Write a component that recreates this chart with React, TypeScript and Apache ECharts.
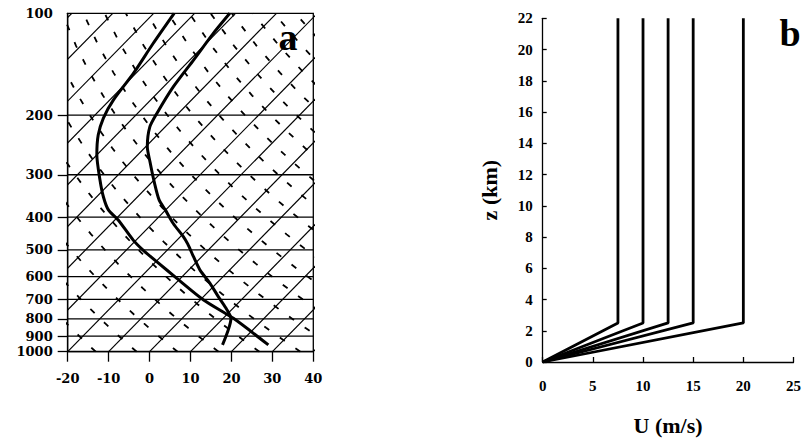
import React, { useEffect, useRef } from "react";
import * as echarts from "echarts";

// ---------- Panel a: skew-T log-p sounding ----------
const pressureLevels = [100, 200, 300, 400, 500, 600, 700, 800, 900, 1000];
const tempTicks = [-20, -10, 0, 10, 20, 30, 40];
// Profile A (warm at the surface)
const profileAPressure = [955, 797, 703, 607, 542, 501, 468, 408, 381, 349, 311, 262, 229, 204, 180, 150, 123, 100];
const profileATemp = [27.4, 12.5, 0.8, -10.9, -19.8, -25.9, -30.7, -39.2, -44.0, -48.3, -53.2, -60.0, -64.4, -67.2, -69.1, -70.6, -72.9, -75.0];
// Profile B
const profileBPressure = [955, 797, 743, 685, 628, 574, 524, 481, 457, 418, 381, 356, 315, 275, 248, 217, 197, 165, 137, 115, 100];
const profileBTemp = [16.2, 11.9, 8.2, 3.4, -1.6, -7.2, -12.0, -16.4, -19.3, -24.9, -30.1, -34.0, -39.5, -45.3, -49.6, -53.7, -55.3, -57.6, -59.1, -60.6, -61.4];
// Diagram background: isotherms (°C) and dry adiabats (K)
const isotherms = [-100, -90, -80, -70, -60, -50, -40, -30, -20, -10, 0, 10, 20, 30, 40];
const dryAdiabats = [260, 270, 280, 290, 300, 310, 320, 330, 340, 350, 360, 370, 380, 390, 400, 410, 420, 430, 440, 450, 460];

// ---------- Panel b: wind profiles ----------
const surfaceWinds = [7.5, 10, 12.5, 15, 20]; // m/s above shear layer
const shearTop = 2.5; // km
const modelTop = 22; // km

const SKEW = 81; // °C of skew per decade of pressure
const skewX = (t: number, p: number) => t + SKEW * Math.log10(1000 / p);

export default function App() {
  const ref = useRef<HTMLDivElement>(null);
  useEffect(() => {
    if (!ref.current) return;
    const chart = echarts.init(ref.current, null, { renderer: "svg" });
    const black = "#000";
    const fa = { fontFamily: "DejaVu Serif", fontWeight: "bold" as const, fontSize: 13, color: black };
    const fb = { fontFamily: "Liberation Serif", fontWeight: "bold" as const, fontSize: 15, color: black };
    const base = {
      type: "line" as const,
      xAxisIndex: 0,
      yAxisIndex: 0,
      symbol: "none",
      showSymbol: false,
      silent: true,
      clip: true,
    };
    const series: any[] = [];
    isotherms.forEach((t) => {
      series.push({ ...base, data: [[skewX(t, 1000), 1000], [skewX(t, 100), 100]], lineStyle: { color: black, width: 1.2 }, z: 2 });
    });
    pressureLevels.slice(1, -1).forEach((p) => {
      series.push({ ...base, data: [[-20, p], [40, p]], lineStyle: { color: black, width: 1.3 }, z: 2 });
    });
    const adPress: number[] = [];
    for (let p = 1000; p >= 100; p -= 25) adPress.push(p);
    dryAdiabats.forEach((th) => {
      series.push({
        ...base,
        data: adPress.map((p) => [skewX(th * Math.pow(p / 1000, 0.286) - 273.15, p), p]),
        lineStyle: { color: black, width: 1.8, type: [6, 13] },
        z: 1,
      });
    });
    series.push({
      ...base,
      data: profileAPressure.map((p, i) => [skewX(profileATemp[i], p), p]),
      smooth: 0.25,
      lineStyle: { color: black, width: 3 },
      z: 5,
    });
    series.push({
      ...base,
      data: profileBPressure.map((p, i) => [skewX(profileBTemp[i], p), p]),
      smooth: 0.25,
      lineStyle: { color: black, width: 3 },
      z: 5,
    });
    surfaceWinds.forEach((u) => {
      series.push({
        ...base,
        xAxisIndex: 1,
        yAxisIndex: 1,
        data: [[0, 0], [u, shearTop], [u, modelTop]],
        lineStyle: { color: black, width: 2.8 },
        z: 5,
      });
    });

    chart.setOption({
      animation: false,
      backgroundColor: "#fff",
      grid: [
        { left: 67.7, top: 13.3, width: 245.6, height: 338.4, show: true, borderColor: black, borderWidth: 1.3, backgroundColor: "transparent" },
        { left: 542.7, top: 18.3, width: 252.3, height: 344.4 },
      ],
      xAxis: [
        {
          gridIndex: 0,
          type: "value",
          min: -20,
          max: 40,
          interval: 10,
          axisLine: { show: true, onZero: false, lineStyle: { color: black, width: 1.3 } },
          axisTick: { show: true, length: 10, lineStyle: { color: black, width: 1.3 } },
          axisLabel: { ...fa, margin: 20, customValues: tempTicks },
          splitLine: { show: false },
        },
        {
          gridIndex: 1,
          type: "value",
          min: 0,
          max: 25,
          interval: 5,
          axisLine: { show: true, onZero: false, lineStyle: { color: black, width: 1.3 } },
          axisTick: { show: true, inside: true, length: 5, lineStyle: { color: black, width: 1.3 } },
          axisLabel: { ...fb, margin: 16 },
          splitLine: { show: false },
          name: "U (m/s)",
          nameLocation: "middle",
          nameGap: 52,
          nameTextStyle: { fontFamily: "Liberation Serif", fontWeight: "bold", fontSize: 22, color: black },
        },
      ],
      yAxis: [
        {
          gridIndex: 0,
          type: "log",
          logBase: 10,
          min: 100,
          max: 1000,
          inverse: true,
          axisLine: { show: true, onZero: false, lineStyle: { color: black, width: 1.3 } },
          axisTick: { show: true, length: 10, customValues: pressureLevels.slice(1), lineStyle: { color: black, width: 1.3 } },
          axisLabel: { ...fa, margin: 15, customValues: pressureLevels, formatter: (v: number) => String(Math.round(v)) },
          splitLine: { show: false },
        },
        {
          gridIndex: 1,
          type: "value",
          min: 0,
          max: 22,
          interval: 2,
          axisLine: { show: true, onZero: false, lineStyle: { color: black, width: 1.3 } },
          axisTick: { show: true, inside: true, length: 4, lineStyle: { color: black, width: 1.3 } },
          axisLabel: { ...fb, margin: 10 },
          splitLine: { show: false },
          name: "z (km)",
          nameLocation: "middle",
          nameRotate: 90,
          nameGap: 42,
          nameTextStyle: { fontFamily: "Liberation Serif", fontWeight: "bold", fontSize: 22, color: black },
        },
      ],
      graphic: [
        { type: "text", x: 288, y: 37, z: 10, style: { text: "a", fill: black, font: "bold 38px 'Liberation Serif'", textAlign: "center", textVerticalAlign: "middle" } },
        { type: "text", x: 790, y: 33, z: 10, style: { text: "b", fill: black, font: "bold 38px 'Liberation Serif'", textAlign: "center", textVerticalAlign: "middle" } },
      ],
      series,
    });
    return () => chart.dispose();
  }, []);
  return <div ref={ref} style={{ position: "absolute", left: 0, top: 0, width: 804, height: 441 }} />;
}
